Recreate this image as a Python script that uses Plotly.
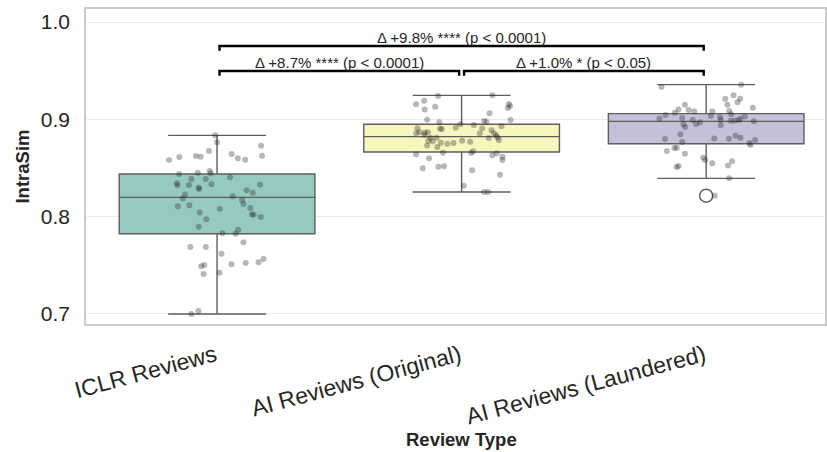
import plotly.graph_objects as go

# Review groups shown on the x axis
categories = ["ICLR Reviews", "AI Reviews (Original)", "AI Reviews (Laundered)"]

# Per-review IntraSim scores and their horizontal strip jitter (category units)
iclr_vals = [0.8835, 0.8764, 0.8729, 0.8674, 0.8582, 0.8613, 0.8623, 0.8616, 0.8644, 0.8599,
             0.8585, 0.8626, 0.8438, 0.8452, 0.8469, 0.8445, 0.8387, 0.8387, 0.8404, 0.8342,
             0.8322, 0.8325, 0.8298, 0.8284, 0.8332, 0.8328, 0.8270, 0.8246, 0.8226, 0.8185,
             0.8209, 0.8171, 0.8130, 0.8106, 0.8116, 0.8078, 0.8089, 0.8041, 0.8024, 0.8020,
             0.7996, 0.7972, 0.7897, 0.7866, 0.7825, 0.7828, 0.7736, 0.7688, 0.7688, 0.7619,
             0.7510, 0.7523, 0.7530, 0.7564, 0.7489, 0.7503, 0.7410, 0.7424, 0.6999, 0.7030]
iclr_jit = [-0.008, 0.000, 0.180, -0.033, -0.196, -0.154, -0.086, -0.067, 0.060, 0.085,
            0.115, 0.184, -0.155, -0.079, -0.030, -0.026, -0.105, -0.046, 0.053, -0.164,
            -0.162, -0.115, -0.075, -0.073, -0.023, 0.176, 0.121, 0.146, -0.131, -0.140,
            0.064, 0.102, 0.108, -0.160, -0.113, 0.011, 0.136, -0.071, 0.143, 0.150,
            0.179, -0.044, -0.075, 0.086, 0.076, 0.022, 0.108, -0.109, -0.046, 0.018,
            0.059, 0.117, 0.170, 0.190, -0.065, -0.052, -0.055, 0.010, -0.105, -0.076]

orig_vals = [0.9240, 0.9246, 0.9154, 0.9192, 0.9102, 0.9130, 0.9157, 0.9137, 0.9116, 0.9061,
             0.8996, 0.8969, 0.8986, 0.8972, 0.8993, 0.8948, 0.8941, 0.8928, 0.8907, 0.8866,
             0.8904, 0.8900, 0.8914, 0.8907, 0.8887, 0.8856, 0.8863, 0.8866, 0.8856, 0.8856,
             0.8835, 0.8815, 0.8787, 0.8808, 0.8839, 0.8811, 0.8811, 0.8780, 0.8774, 0.8732,
             0.8715, 0.8760, 0.8750, 0.8756, 0.8780, 0.8770, 0.8671, 0.8654, 0.8657, 0.8640,
             0.8599, 0.8630, 0.8650, 0.8616, 0.8582, 0.8496, 0.8513, 0.8517, 0.8476, 0.8431,
             0.8318, 0.8253, 0.8253]
orig_jit = [-0.096, 0.126, -0.186, -0.153, -0.151, -0.108, 0.193, 0.198, 0.189, 0.114,
            -0.141, -0.091, 0.092, 0.102, 0.200, -0.005, 0.050, 0.163, -0.181, -0.172,
            -0.088, -0.081, -0.024, 0.084, 0.122, -0.186, -0.151, -0.138, 0.074, 0.132,
            0.141, 0.147, 0.152, 0.111, -0.151, -0.127, -0.102, -0.136, -0.118, -0.141,
            -0.099, -0.085, -0.058, -0.033, 0.002, 0.035, 0.047, 0.039, -0.076, -0.186,
            -0.133, 0.126, 0.144, 0.167, 0.167, -0.159, -0.095, -0.072, 0.043, 0.157,
            0.009, 0.092, 0.108]

laund_vals = [0.9356, 0.9332, 0.9246, 0.9212, 0.9212, 0.9150, 0.9175, 0.9150, 0.9102, 0.9096,
              0.9068, 0.9082, 0.9120, 0.9086, 0.9082, 0.9044, 0.9006, 0.9013, 0.9034, 0.9020,
              0.9051, 0.9030, 0.9006, 0.8993, 0.8969, 0.8952, 0.8948, 0.8921, 0.8993, 0.8986,
              0.8986, 0.8993, 0.8979, 0.8938, 0.8846, 0.8798, 0.8767, 0.8804, 0.8801, 0.8832,
              0.8811, 0.8787, 0.8757, 0.8736, 0.8674, 0.8705, 0.8708, 0.8647, 0.8606, 0.8582,
              0.8548, 0.8568, 0.8524, 0.8510, 0.8520, 0.8393, 0.8215]
laund_jit = [0.143, -0.183, 0.112, 0.078, 0.139, 0.087, 0.128, -0.087, -0.113, -0.072,
             -0.128, -0.049, 0.191, 0.094, 0.025, -0.166, -0.191, -0.098, 0.019, 0.057,
             0.102, 0.158, 0.140, -0.055, -0.025, -0.041, -0.093, -0.086, 0.059, 0.100,
             0.116, 0.132, 0.195, 0.060, -0.105, -0.168, -0.098, 0.033, 0.093, 0.120,
             0.140, 0.200, 0.177, 0.181, -0.161, -0.130, -0.120, -0.087, -0.012, -0.004,
             0.025, 0.106, 0.089, -0.121, -0.113, 0.094, 0.035]

# Box summaries: lower whisker, Q1, median, Q3, upper whisker
box_low = [0.6999, 0.8253, 0.8393]
box_q1 = [0.7824, 0.8664, 0.8749]
box_med = [0.8198, 0.8822, 0.8979]
box_q3 = [0.8438, 0.8949, 0.9058]
box_high = [0.8835, 0.9246, 0.9356]
outlier_group = [2]
outlier_vals = [0.8215]

fills = ["#96cac1", "#f6f6bd", "#c3c0d8"]

# Pairwise comparisons: (left group, right group, label, bracket level)
comparisons = [
    (0, 1, "Δ +8.7% **** (p < 0.0001)", 0.9496),
    (1, 2, "Δ +1.0% * (p < 0.05)", 0.9496),
    (0, 2, "Δ +9.8% **** (p < 0.0001)", 0.9753),
]

FONT = "Liberation Sans, Arial, Helvetica, sans-serif"
TEXT = "#262626"
EDGE = "#5e5e5e"

fig = go.Figure()

for i in range(3):
    fig.add_trace(go.Box(
        x=[i], q1=[box_q1[i]], median=[box_med[i]], q3=[box_q3[i]],
        lowerfence=[box_low[i]], upperfence=[box_high[i]],
        width=0.8, whiskerwidth=0.5, fillcolor=fills[i],
        line=dict(color=EDGE, width=1.4), boxpoints=False,
        showlegend=False, hoverinfo="skip",
    ))

fig.add_trace(go.Scatter(
    x=outlier_group, y=outlier_vals, mode="markers",
    marker=dict(symbol="circle-open", size=13, color=EDGE, line=dict(width=1.4)),
    showlegend=False, hoverinfo="skip",
))

for i, (vals, jit) in enumerate([(iclr_vals, iclr_jit), (orig_vals, orig_jit), (laund_vals, laund_jit)]):
    fig.add_trace(go.Scatter(
        x=[i + j for j in jit], y=vals, mode="markers",
        marker=dict(size=6, color="rgba(30,30,30,0.32)", line=dict(width=0)),
        showlegend=False, hoverinfo="skip",
    ))

tick_drop = 0.0048
for a, b, label, level in comparisons:
    x0, x1 = a + 0.01, b - 0.01
    fig.add_shape(type="path",
                  path=f"M {x0} {level - tick_drop} L {x0} {level} L {x1} {level} L {x1} {level - tick_drop}",
                  xref="x", yref="y", line=dict(color="black", width=2.4))
    fig.add_annotation(x=(a + b) / 2, y=level, xref="x", yref="y", text=label,
                       showarrow=False, yanchor="bottom", yshift=-2,
                       font=dict(family=FONT, size=15, color=TEXT))

# Axis frame
fig.add_shape(type="rect", xref="paper", yref="paper", x0=0, y0=0, x1=1, y1=1,
              line=dict(color="#cccccc", width=2), layer="above")

fig.add_annotation(text="<b>IntraSim</b>", xref="paper", yref="paper",
                   x=-0.085, y=0.5, textangle=-90, showarrow=False,
                   xanchor="center", yanchor="middle",
                   font=dict(family=FONT, size=18.5, color=TEXT))
fig.add_annotation(text="<b>Review Type</b>", xref="x", yref="paper",
                   x=1, y=-0.36, showarrow=False, xanchor="center", yanchor="middle",
                   font=dict(family=FONT, size=18.5, color=TEXT))

fig.update_layout(
    width=827, height=452,
    margin=dict(l=85, r=1, t=8, b=127),
    paper_bgcolor="white", plot_bgcolor="white",
    font=dict(family=FONT, color=TEXT),
    xaxis=dict(range=[-0.54, 2.49], tickvals=[0, 1, 2], ticktext=categories,
               tickangle=-15, showgrid=False, zeroline=False, showline=False,
               ticks="", ticklabelstandoff=12, ticklabelshift=-2,
               tickfont=dict(size=23, color=TEXT)),
    yaxis=dict(range=[0.6886, 1.0144], tickvals=[0.7, 0.8, 0.9, 1.0],
               ticktext=["0.7", "0.8", "0.9", "1.0"],
               showgrid=True, gridcolor="#ebebeb", gridwidth=1.3,
               zeroline=False, showline=False, ticks="", ticklabelstandoff=14,
               tickfont=dict(size=21, color=TEXT)),
)

fig.write_html("out.html")
